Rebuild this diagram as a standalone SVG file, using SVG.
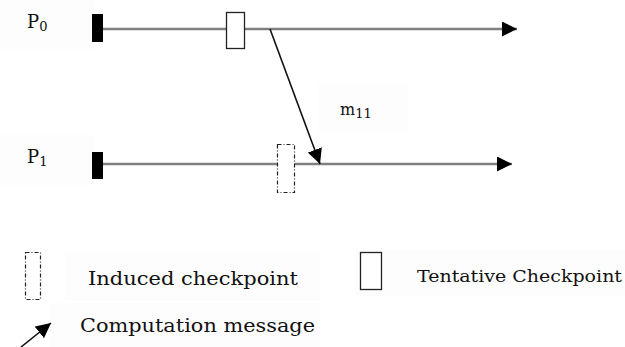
<svg xmlns="http://www.w3.org/2000/svg" width="625" height="347" viewBox="0 0 625 347">
  <style>
    .lbl { font-family: "DejaVu Serif", "Liberation Serif", serif; fill: #111; }
    .sub { font-size: 13px; }
    .timeline { stroke: #808080; stroke-width: 2.4; fill: none; }
    .msg { stroke: #111; stroke-width: 1.6; fill: none; }
    .start { fill: #000; }
    .tentative { fill: #fff; stroke: #222; stroke-width: 1.3; }
    .induced { fill: #fff; stroke: #222; stroke-width: 1.2; stroke-dasharray: 4 2 1 2; }
    .haze { fill: #fdfdfd; }
  </style>
  <defs>
    <marker id="headBig" viewBox="0 0 10 10" refX="10" refY="5" markerWidth="15" markerHeight="15" markerUnits="userSpaceOnUse" orient="auto">
      <path d="M0,0 L10,5 L0,10 z" fill="#000"/>
    </marker>
  </defs>
  <rect width="625" height="347" fill="#fff"/>

  <!-- faint label backgrounds -->
  <rect class="haze" x="0" y="0" width="95" height="50"/>
  <rect class="haze" x="0" y="135" width="95" height="50"/>
  <rect class="haze" x="318" y="84" width="90" height="48"/>
  <rect class="haze" x="65" y="253" width="255" height="48"/>
  <rect class="haze" x="50" y="303" width="270" height="44"/>
  <rect class="haze" x="355" y="250" width="270" height="46"/>

  <g id="connectors">
    <line class="timeline" x1="103" y1="29" x2="517" y2="29" marker-end="url(#headBig)"/>
    <line class="timeline" x1="103" y1="164" x2="512" y2="164" marker-end="url(#headBig)"/>
    <line class="msg" x1="270" y1="29" x2="320" y2="164" marker-end="url(#headBig)"/>
    <line class="msg" x1="21" y1="347" x2="51" y2="323" marker-end="url(#headBig)"/>
  </g>

  <g id="p0">
    <text class="lbl" x="27" y="28" font-size="18">P<tspan class="sub" dy="3">0</tspan></text>
    <rect class="start" x="92" y="14" width="11" height="28"/>
  </g>
  <g id="p1">
    <text class="lbl" x="27" y="163" font-size="18">P<tspan class="sub" dy="3">1</tspan></text>
    <rect class="start" x="92" y="152" width="11" height="27"/>
  </g>

  <g id="tentative-p0">
    <rect class="tentative" x="226.5" y="12.5" width="18" height="36"/>
  </g>
  <g id="induced-p1">
    <rect class="induced" x="277.5" y="144.5" width="17" height="48"/>
  </g>

  <g id="m11">
    <text class="lbl" x="340" y="115" font-size="16">m<tspan class="sub" dy="3">11</tspan></text>
  </g>

  <g id="legend-induced">
    <rect class="induced" x="25.5" y="252.5" width="15" height="47"/>
    <text class="lbl" x="88" y="285" font-size="18" textLength="210" lengthAdjust="spacingAndGlyphs">Induced checkpoint</text>
  </g>
  <g id="legend-tentative">
    <rect class="tentative" x="360.5" y="252.5" width="21" height="37"/>
    <text class="lbl" x="417" y="282" font-size="16" textLength="205" lengthAdjust="spacingAndGlyphs">Tentative Checkpoint</text>
  </g>
  <g id="legend-message">
    <text class="lbl" x="80" y="332" font-size="18" textLength="235" lengthAdjust="spacingAndGlyphs">Computation message</text>
  </g>
</svg>
